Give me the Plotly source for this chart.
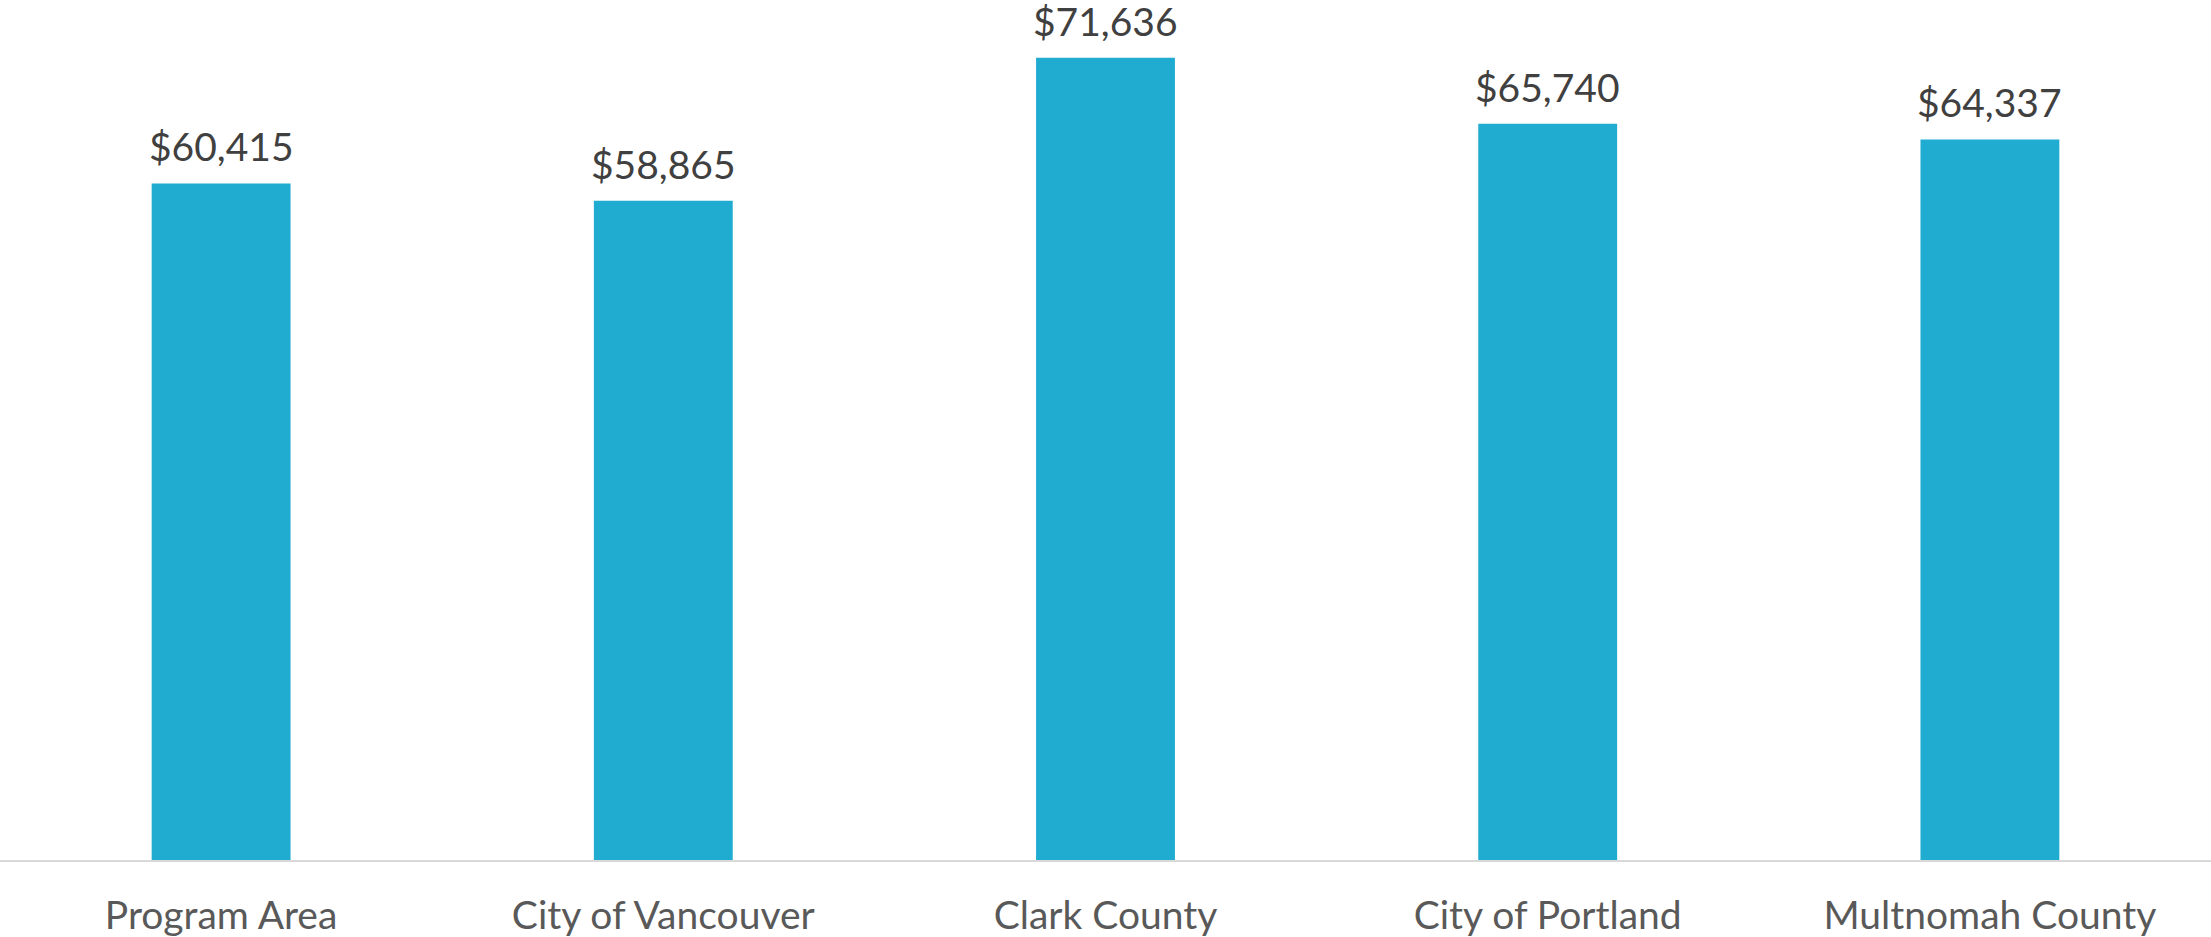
import plotly.graph_objects as go

categories = ["Program Area", "City of Vancouver", "Clark County", "City of Portland", "Multnomah County"]
values = [60415, 58865, 71636, 65740, 64337]
labels = ["$" + f"{v:,}" for v in values]

BAR_COLOR = "#20ACD0"
FONT = "Lato, 'Source Sans Pro', 'Noto Sans', sans-serif"

fig = go.Figure()
fig.add_trace(go.Bar(
    x=categories, y=values, marker=dict(color=BAR_COLOR, line=dict(width=0)),
    hoverinfo="skip",
))

for c, v, t in zip(categories, values, labels):
    fig.add_annotation(x=c, y=v, text=t, showarrow=False, yanchor="bottom",
                       yshift=12, font=dict(family=FONT, size=39, color="#404040"))

fig.update_layout(
    width=2211, height=937,
    margin=dict(l=0, r=0, t=0, b=77, autoexpand=False),
    paper_bgcolor="white", plot_bgcolor="white",
    bargap=0.686, showlegend=False,
    xaxis=dict(showline=True, linecolor="#d9d9d9", linewidth=2, ticks="",
               automargin=False,
               tickfont=dict(family=FONT, size=39, color="#595959"),
               ticklabelstandoff=20, showgrid=False),
    yaxis=dict(range=[0, 76790], visible=False, showgrid=False, zeroline=False,
               automargin=False),
)

fig.write_html("out.html", config={"displayModeBar": False},
               post_script="document.body.style.margin='0';document.body.style.overflow='hidden';")
